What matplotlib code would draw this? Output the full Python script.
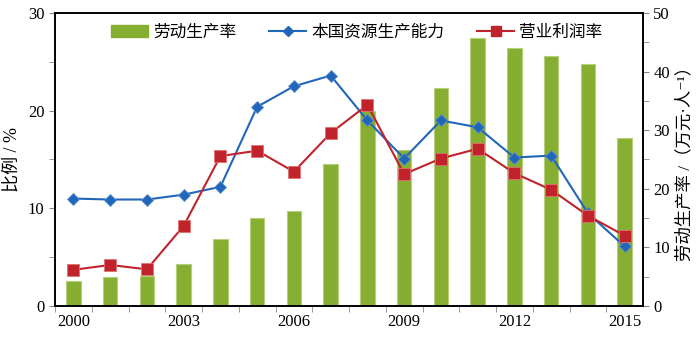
import matplotlib
matplotlib.use("Agg")
import matplotlib.pyplot as plt
from matplotlib.patches import Patch
from matplotlib.lines import Line2D

plt.rcParams['font.family'] = ['Liberation Serif', 'Noto Sans CJK SC', 'DejaVu Sans']

years = list(range(2000, 2016))
labour = [4.3, 5.0, 5.1, 7.2, 11.4, 15.0, 16.2, 24.2, 33.3, 26.6, 37.2, 45.7, 44.1, 42.7, 41.3, 28.7]
resource = [11.0, 10.9, 10.9, 11.4, 12.2, 20.4, 22.5, 23.6, 19.0, 15.1, 19.0, 18.3, 15.2, 15.4, 9.5, 6.1]
profit = [3.7, 4.2, 3.75, 8.2, 15.35, 15.9, 13.75, 17.7, 20.6, 13.5, 15.1, 16.1, 13.6, 11.9, 9.25, 7.2]
xlabels = [2000, 2003, 2006, 2009, 2012, 2015]

green = '#86AE30'
blue = '#2166B8'
red = '#C0232B'

fig = plt.figure(figsize=(7, 3.43), dpi=100)
ax = fig.add_axes([0.0786, 0.108, 0.84, 0.854])
ax2 = ax.twinx()

ax2.bar(years, labour, width=0.4, color=green, edgecolor='#B5CF7A', linewidth=0.8)
ax.plot(years, resource, color=blue, lw=1.5, marker='D', ms=6,
        mfc=blue, mec='#5B8FD0', mew=0.6)
ax.plot(years, profit, color=red, lw=1.5, marker='s', ms=8,
        mfc=red, mec='#E07070', mew=0.6)

ax.set_zorder(ax2.get_zorder() + 1)
ax.patch.set_visible(False)

ax.set_xlim(1999.5, 2015.5)
ax.set_ylim(0, 30)
ax2.set_ylim(0, 50)

ax.set_xticks(xlabels)
ax.set_xticklabels([str(y) for y in xlabels], fontsize=12)
ax.set_xticks([y + 0.5 for y in years[:-1]] + [1999.5], minor=True)
ax.tick_params(axis='x', which='major', length=0, pad=6)
ax.tick_params(axis='x', which='minor', length=4, direction='out', color='#888888')

ax.set_yticks([0, 10, 20, 30])
ax.set_yticks([5, 15, 25], minor=True)
ax.tick_params(axis='y', which='both', length=4, direction='out', color='#888888', labelsize=12)
ax2.set_yticks([0, 10, 20, 30, 40, 50])
ax2.set_yticks([5, 15, 25, 35, 45], minor=True)
ax2.tick_params(axis='y', which='both', length=4, direction='out', color='#888888', labelsize=12)

for a in (ax, ax2):
    for s in a.spines.values():
        s.set_linewidth(1.2)

ax.set_ylabel('比例 / %', fontsize=13, labelpad=5)
ax2.set_ylabel('劳动生产率 /（万元·人⁻¹）', fontsize=12.5, rotation=90, labelpad=5)

handles = [
    Patch(facecolor=green, edgecolor=green),
    Line2D([], [], color=blue, lw=1.5, marker='D', ms=5),
    Line2D([], [], color=red, lw=1.5, marker='s', ms=7),
]
ax.legend(handles, ['劳动生产率', '本国资源生产能力', '营业利润率'], ncol=3, frameon=False,
          loc='upper left', bbox_to_anchor=(0.07, 1.01), fontsize=12,
          handlelength=2.2, handletextpad=0.3, columnspacing=2.0)

fig.savefig('out.png', dpi=100)
